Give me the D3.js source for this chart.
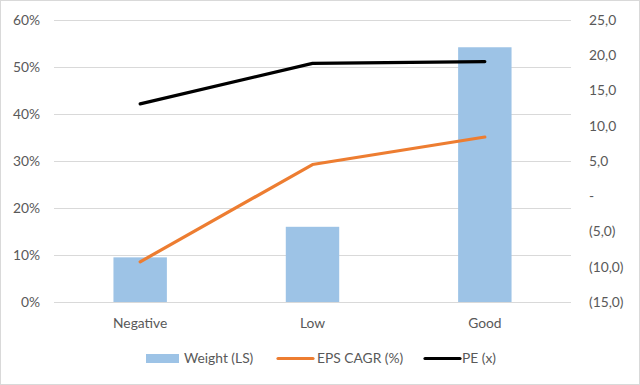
<!DOCTYPE html>
<html><head><meta charset="utf-8">
<script src="https://cdn.jsdelivr.net/npm/d3@7"></script>
<style>body{margin:0;background:#fff}svg{display:block}text{font-family:Lato,"Open Sans",sans-serif;fill:#595959}</style>
</head><body>
<script>
const categories = ["Negative","Low","Good"];
const weight = [0.095, 0.160, 0.542];
const epsCagr = [-9.3, 4.5, 8.4];
const pe = [13.1, 18.85, 19.1];
const leftTicks = [0,0.1,0.2,0.3,0.4,0.5,0.6];
const rightTicks = [-15,-10,-5,0,5,10,15,20,25];
const legendLabels = ["Weight (LS)","EPS CAGR (%)","PE (x)"];

const W=640,H=385,FS=13.8;
const svg=d3.select("body").append("svg").attr("width",W).attr("height",H);
svg.append("rect").attr("x",0.5).attr("y",0.5).attr("width",W-1).attr("height",H-1).attr("fill","#fff").attr("stroke","#d9d9d9");
const x0=54,x1=571,yTop=20,yBot=302;
const x=d3.scaleBand().domain(categories).range([x0,x1]).paddingInner(0.69).paddingOuter(0.345);
const xc=d=>x(d)+x.bandwidth()/2;
const yL=d3.scaleLinear().domain([0,0.6]).range([yBot,yTop]);
const yR=d3.scaleLinear().domain([-15,25]).range([yBot,yTop]);

svg.append("g").selectAll("line").data(leftTicks).join("line")
 .attr("x1",x0).attr("x2",x1).attr("y1",d=>Math.round(yL(d))+0.5).attr("y2",d=>Math.round(yL(d))+0.5)
 .attr("stroke","#d9d9d9").attr("stroke-width",1);

const fmtL=d3.format(".0%");
svg.append("g").selectAll("text").data(leftTicks).join("text")
 .attr("x",40).attr("y",d=>yL(d)).attr("dy","0.35em").attr("text-anchor","end").attr("font-size",FS).text(fmtL);
const fmtR=d=>{ if(d===0) return "-"; const s=Math.abs(d).toFixed(1).replace(".",","); return d<0?"("+s+")":s;};
svg.append("g").selectAll("text").data(rightTicks).join("text")
 .attr("x",589).attr("y",d=>yR(d)).attr("dy","0.35em").attr("text-anchor","start").attr("font-size",FS).text(fmtR);

svg.append("g").selectAll("rect").data(categories).join("rect")
 .attr("x",d=>x(d)).attr("width",x.bandwidth())
 .attr("y",(d,i)=>yL(weight[i])).attr("height",(d,i)=>yBot-yL(weight[i]))
 .attr("fill","#9dc3e6");

svg.append("g").selectAll("text").data(categories).join("text")
 .attr("x",xc).attr("y",323).attr("dy","0.35em").attr("text-anchor","middle").attr("font-size",FS).text(d=>d);

const line=d3.line().x((d,i)=>xc(categories[i])).y(d=>yR(d));
svg.append("path").datum(epsCagr).attr("d",line).attr("fill","none").attr("stroke","#ed7d31").attr("stroke-width",3.2).attr("stroke-linecap","round").attr("stroke-linejoin","round");
svg.append("path").datum(pe).attr("d",line).attr("fill","none").attr("stroke","#000").attr("stroke-width",3.2).attr("stroke-linecap","round").attr("stroke-linejoin","round");

const lg=svg.append("g");
lg.append("rect").attr("x",146).attr("y",354).attr("width",33).attr("height",9).attr("fill","#9dc3e6");
lg.append("text").attr("x",184).attr("y",358.5).attr("dy","0.35em").attr("font-size",FS).text(legendLabels[0]);
lg.append("line").attr("x1",278).attr("x2",313).attr("y1",358.5).attr("y2",358.5).attr("stroke","#ed7d31").attr("stroke-width",3.2).attr("stroke-linecap","round");
lg.append("text").attr("x",317).attr("y",358.5).attr("dy","0.35em").attr("font-size",FS).text(legendLabels[1]);
lg.append("line").attr("x1",425).attr("x2",460).attr("y1",358.5).attr("y2",358.5).attr("stroke","#000").attr("stroke-width",3.2).attr("stroke-linecap","round");
lg.append("text").attr("x",462).attr("y",358.5).attr("dy","0.35em").attr("font-size",FS).text(legendLabels[2]);
</script>
</body></html>
